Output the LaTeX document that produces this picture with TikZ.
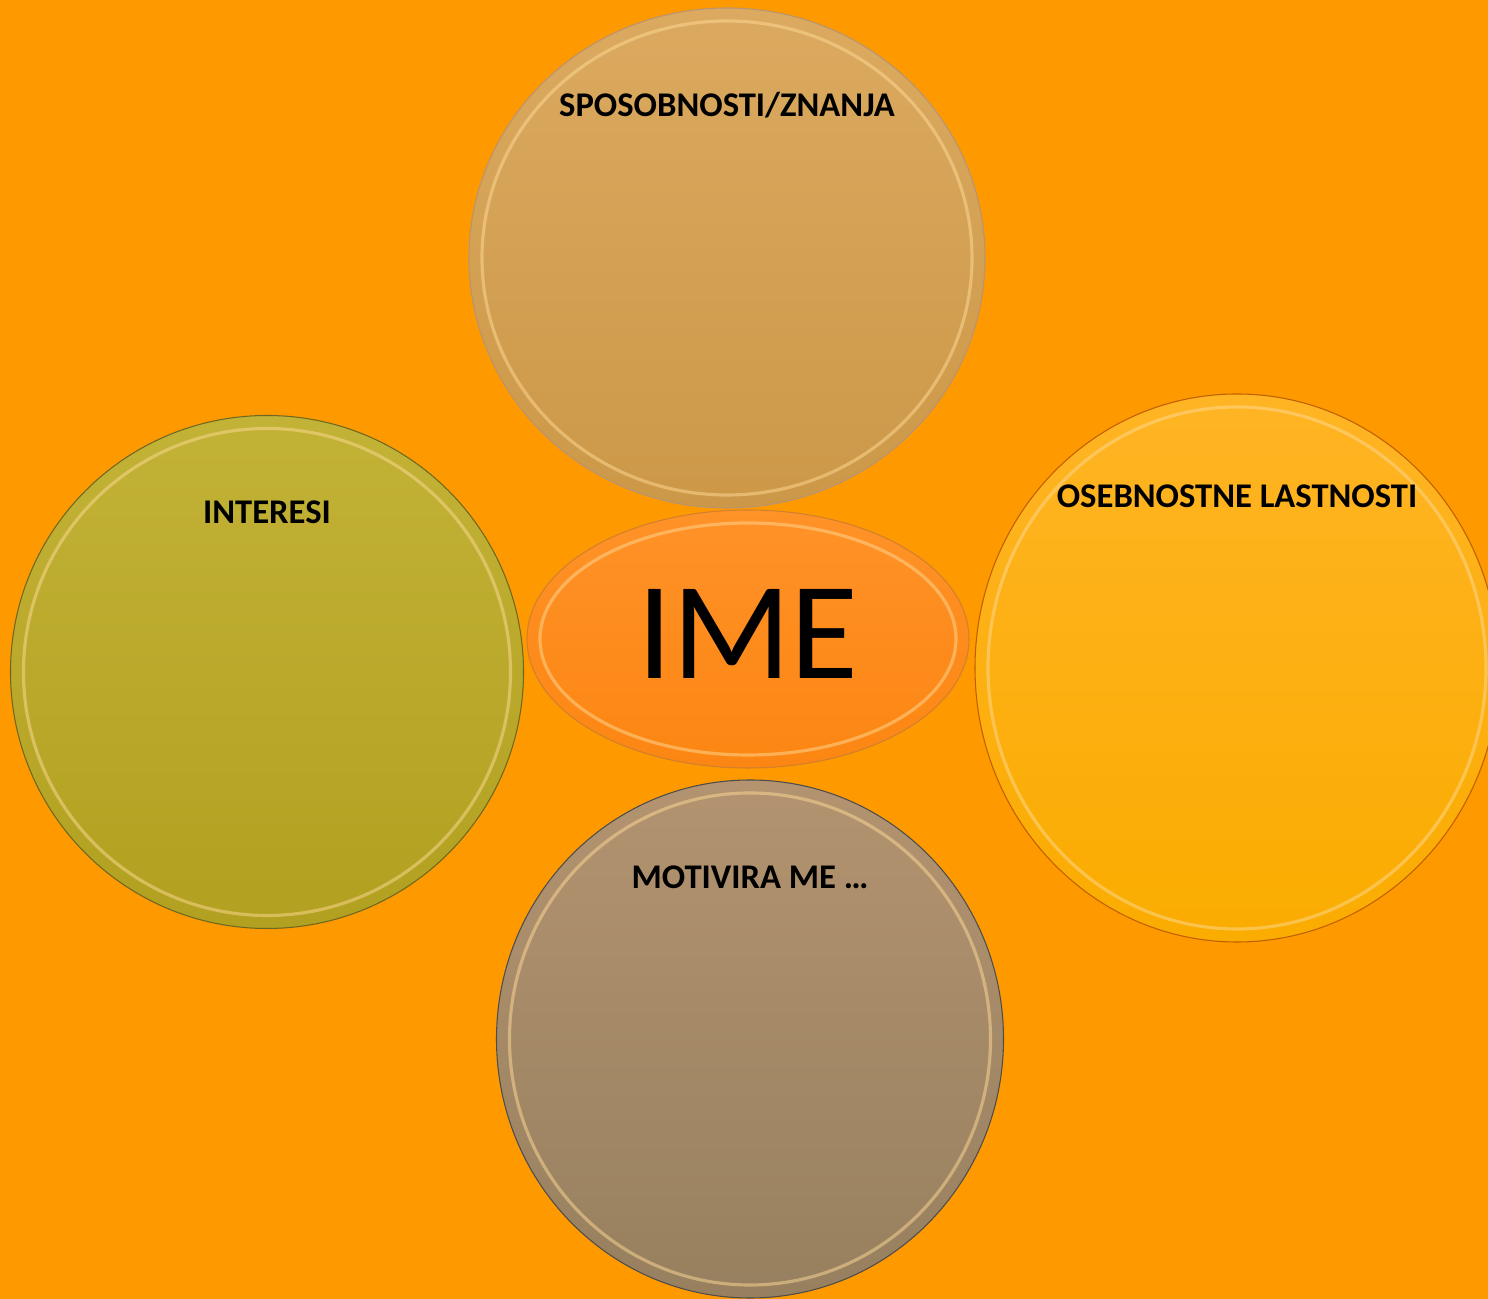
\documentclass[tikz,border=0pt]{standalone}
\usepackage{fontspec}
\setmainfont{Carlito}
\usetikzlibrary{shapes.geometric}
\usetikzlibrary{positioning}
\usetikzlibrary{calc}
\definecolor{bgorange}{HTML}{FF9900}
\definecolor{rimlight}{HTML}{FFDA96}

\begin{document}
\begin{tikzpicture}[
    bubble/.style={ellipse,inner sep=0,outer sep=0,line width=0.6pt},
    lbl/.style={inner sep=0,font=\fontsize{19.7}{23}\selectfont\bfseries},
    rim/.style={line width=1.8pt,draw=rimlight,opacity=0.5}]
    \useasboundingbox (0,0) rectangle (29.76,25.98);
    \fill[bgorange] (0,0) rectangle (29.76,25.98);

    % middle
    \node[bubble,top color={rgb,255:red,255;green,146;blue,40},bottom color={rgb,255:red,252;green,134;blue,18},
      draw=brown!70!orange,minimum width=8.84cm,minimum height=5.16cm] (ime) at (14.96,13.2) {};

    % four around it
    \node[bubble,top color={rgb,255:red,219;green,170;blue,96},bottom color={rgb,255:red,204;green,152;blue,72},
      draw=brown!80!black!70,minimum width=10.32cm,minimum height=10cm] (spos) at ([shift={(-0.42,7.62)}] ime) {};
    \node[bubble,top color={rgb,255:red,194;green,178;blue,54},bottom color={rgb,255:red,178;green,160;blue,32},
      draw=olive!70!black,minimum width=10.26cm,minimum height=10.26cm] (inter) at ([shift={(-9.62,-0.66)}] ime) {};
    \node[bubble,top color={rgb,255:red,255;green,180;blue,36},bottom color={rgb,255:red,250;green,172;blue,0},
      draw=orange!75!black,minimum width=10.48cm,minimum height=10.96cm] (oseb) at ([shift={(9.78,-0.58)}] ime) {};
    \node[bubble,top color={rgb,255:red,179;green,147;blue,112},bottom color={rgb,255:red,151;green,128;blue,95},
      draw=gray!60!black,minimum width=10.14cm,minimum height=10.36cm] (motiv) at ([shift={(0.04,-8)}] ime) {};

    \foreach \b in {ime,spos,inter,oseb,motiv}{
      \draw[rim] let \p1=(\b.east), \p2=(\b.north), \p3=(\b.center) in
        (\p3) ellipse ({\x1-\x3-0.26cm} and {\y2-\y3-0.26cm});
    }

    \node[inner sep=0,font=\fontsize{79}{90}\selectfont] (imetxt) at ([yshift=0.1cm] ime) {IME};
    \node[lbl] (sposlbl) at ([yshift=-1.94cm] spos.north) {SPOSOBNOSTI/ZNANJA};
    \node[lbl] (interlbl) at ([yshift=-1.94cm] inter.north) {INTERESI};
    \node[lbl] (oseblbl) at ([yshift=-2.04cm] oseb.north) {OSEBNOSTNE LASTNOSTI};
    \node[lbl] (motivlbl) at ([yshift=-1.94cm] motiv.north) {MOTIVIRA ME …};
\end{tikzpicture}
\end{document}
